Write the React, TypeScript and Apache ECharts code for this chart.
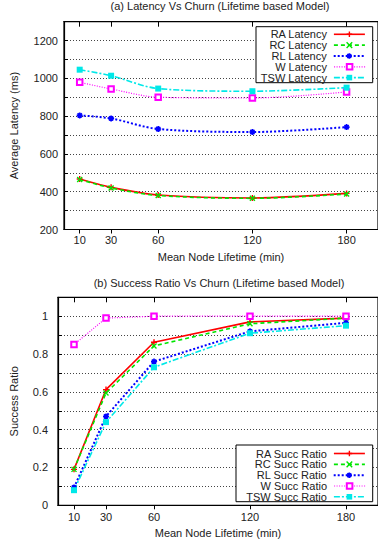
import React, { useEffect, useRef } from "react";
import * as echarts from "echarts";

const lifetimes = [10, 30, 60, 120, 180];
const xTicks = [10, 30, 60, 120, 180];

const latencyNames = ["RA Latency", "RC Latency", "RL Latency", "W Latency", "TSW Latency"];
const raLatency = [467, 423, 383, 367, 391];
const rcLatency = [465, 420, 380, 365, 388];
const rlLatency = [804, 788, 732, 716, 742];
const wLatency = [979, 944, 900, 896, 928];
const tswLatency = [1046, 1014, 946, 932, 951];

const succNames = ["RA Succ Ratio", "RC Succ Ratio", "RL Succ Ratio", "W Succ Ratio", "TSW Succ Ratio"];
const raSucc = [0.19, 0.612, 0.862, 0.97, 0.99];
const rcSucc = [0.19, 0.594, 0.843, 0.96, 0.99];
const rlSucc = [0.094, 0.47, 0.76, 0.92, 0.965];
const wSucc = [0.85, 0.99, 1.0, 1.0, 1.0];
const tswSucc = [0.08, 0.44, 0.73, 0.91, 0.95];

const FONT = "'Liberation Sans', Arial, sans-serif";
const TXT = "#222";

const styles = [
  { color: "#ff0000", type: "solid", width: 1.6, symbol: "path://M0,5L10,5M5,0L5,10", size: 6, bw: 1.4 },
  { color: "#00e600", type: [4, 3], width: 1.6, symbol: "path://M0,0L10,10M10,0L0,10", size: 5, bw: 1.4 },
  { color: "#0000ff", type: [2, 2], width: 2, symbol: "path://M0,5L10,5M5,0L5,10M1.5,1.5L8.5,8.5M8.5,1.5L1.5,8.5", size: 6, bw: 1.6 },
  { color: "#ff00ff", type: [1, 1.5], width: 1.2, symbol: "emptyRect", size: 5.5, bw: 1.3 },
  { color: "#00e8e8", type: [6, 2, 2, 2], width: 1.6, symbol: "rect", size: 6, bw: 0 },
];

function pairs(ys: number[]) {
  return lifetimes.map((x, i) => [x, ys[i]]);
}

function makeSeries(name: string, ys: number[], idx: number, axisIdx: number, yIdx: number, smooth: any) {
  const s = styles[idx];
  return {
    type: "line",
    name,
    xAxisIndex: axisIdx,
    yAxisIndex: yIdx,
    data: pairs(ys),
    smooth,
    symbol: s.symbol,
    symbolSize: s.size,
    showSymbol: true,
    lineStyle: { color: s.color, width: s.width, type: s.type },
    itemStyle: { color: s.color, borderColor: s.color, borderWidth: s.bw },
    emphasis: { disabled: true },
  };
}

function makeLegends(names: string[], rowCenters: number[]) {
  return names.map((n, i) => ({
    data: [n],
    right: 12.3,
    top: rowCenters[i] - 3.5,
    orient: "horizontal",
    align: "right",
    itemWidth: 31,
    itemHeight: 7,
    padding: 0,
    selectedMode: false,
    lineStyle: { width: styles[i].width },
    itemStyle: { borderWidth: styles[i].bw },
    textStyle: { fontSize: 11, color: TXT, fontFamily: FONT, padding: [0, 2, 0, 0] },
  }));
}

export default function App() {
  const ref = useRef<HTMLDivElement>(null);
  useEffect(() => {
    if (!ref.current) return;
    const chart = echarts.init(ref.current, null, { renderer: "svg" });
    const axisLabelStyle = { fontSize: 11, color: TXT, fontFamily: FONT };
    const nameStyle = { fontSize: 11, color: TXT, fontFamily: FONT };
    const splitLine = { show: true, lineStyle: { type: [1, 2], color: "#444", width: 1 } };

    const bottomX = (gridIndex: number, margin: number, gap: number) => ({
      gridIndex,
      type: "value",
      min: 0,
      max: 200,
      position: "bottom",
      axisLine: { show: true, onZero: false, lineStyle: { color: "#000", width: 1.2 } },
      axisTick: { show: true, customValues: xTicks, inside: false, length: 4, lineStyle: { color: "#000" } },
      axisLabel: { show: true, customValues: xTicks, margin, ...axisLabelStyle },
      splitLine: { show: false },
      name: "Mean Node Lifetime (min)",
      nameLocation: "middle",
      nameGap: gap,
      nameTextStyle: nameStyle,
    });
    const topX = (gridIndex: number) => ({
      gridIndex,
      type: "value",
      min: 0,
      max: 200,
      position: "top",
      axisLine: { show: true, onZero: false, lineStyle: { color: "#000", width: 1.2 } },
      axisTick: { show: true, customValues: xTicks, inside: true, length: 5, lineStyle: { color: "#000" } },
      axisLabel: { show: false },
      splitLine: { show: false },
    });

    const option: any = {
      animation: false,
      backgroundColor: "#fff",
      title: [
        {
          text: "(a) Latency Vs Churn (Lifetime based Model)",
          left: 220,
          top: 0,
          textAlign: "center",
          textVerticalAlign: "top",
          padding: 0,
          textStyle: { fontSize: 11, fontWeight: "normal", color: TXT, fontFamily: FONT },
        },
        {
          text: "(b) Success Ratio Vs Churn (Lifetime based Model)",
          left: 219,
          top: 277,
          textAlign: "center",
          textVerticalAlign: "top",
          padding: 0,
          textStyle: { fontSize: 11, fontWeight: "normal", color: TXT, fontFamily: FONT },
        },
      ],
      grid: [
        { left: 64, top: 21.7, width: 332, height: 207.8, show: true, borderColor: "#000", borderWidth: 1.2, backgroundColor: "transparent" },
        { left: 57.3, top: 297.3, width: 321.7, height: 208, show: true, borderColor: "#000", borderWidth: 1.2, backgroundColor: "transparent" },
      ],
      xAxis: [bottomX(0, 5, 21.5), topX(0), bottomX(1, 6, 22), topX(1)],
      yAxis: [
        {
          gridIndex: 0,
          type: "value",
          min: 200,
          max: 1300,
          interval: 100,
          axisLine: { show: true, lineStyle: { color: "#000", width: 1.2 } },
          axisTick: { show: true, inside: true, length: 4, lineStyle: { color: "#000" } },
          axisLabel: {
            margin: 6,
            formatter: (v: number) => (Math.round(v) % 200 === 0 && v <= 1200 ? String(Math.round(v)) : ""),
            ...axisLabelStyle,
          },
          splitLine,
          name: "Average Latency (ms)",
          nameLocation: "middle",
          nameGap: 45,
          nameTextStyle: nameStyle,
        },
        {
          gridIndex: 1,
          type: "value",
          min: 0,
          max: 1.1,
          interval: 0.1,
          axisLine: { show: true, lineStyle: { color: "#000", width: 1.2 } },
          axisTick: { show: true, inside: true, length: 4, lineStyle: { color: "#000" } },
          axisLabel: {
            margin: 10,
            formatter: (v: number) => {
              const k = Math.round(v * 10);
              return k % 2 === 0 && k <= 10 ? String(k / 10) : "";
            },
            ...axisLabelStyle,
          },
          splitLine,
          name: "Success Ratio",
          nameLocation: "middle",
          nameGap: 39,
          nameTextStyle: nameStyle,
        },
      ],
      legend: [
        ...makeLegends(latencyNames, [32.3, 43.1, 54, 64.8, 75.6]),
        ...makeLegends(succNames, [451.5, 462.4, 473.2, 484, 494.8]),
      ],
      graphic: [
        { type: "rect", z: 3, shape: { x: 256, y: 26.7, width: 116.7, height: 56 }, style: { fill: "#fff", stroke: "#000", lineWidth: 1 } },
        { type: "rect", z: 3, shape: { x: 236, y: 445, width: 136.7, height: 56.7 }, style: { fill: "#fff", stroke: "#000", lineWidth: 1 } },
      ],
      series: [
        makeSeries(latencyNames[0], raLatency, 0, 0, 0, 0.3),
        makeSeries(latencyNames[1], rcLatency, 1, 0, 0, 0.3),
        makeSeries(latencyNames[2], rlLatency, 2, 0, 0, 0.3),
        makeSeries(latencyNames[3], wLatency, 3, 0, 0, 0.3),
        makeSeries(latencyNames[4], tswLatency, 4, 0, 0, 0.3),
        makeSeries(succNames[0], raSucc, 0, 2, 1, false),
        makeSeries(succNames[1], rcSucc, 1, 2, 1, false),
        makeSeries(succNames[2], rlSucc, 2, 2, 1, false),
        makeSeries(succNames[3], wSucc, 3, 2, 1, false),
        makeSeries(succNames[4], tswSucc, 4, 2, 1, false),
      ],
    };
    chart.setOption(option);
    return () => chart.dispose();
  }, []);
  return (
    <div
      ref={ref}
      style={{ position: "absolute", left: 0, top: 0, width: 378, height: 546, overflow: "hidden" }}
    />
  );
}
